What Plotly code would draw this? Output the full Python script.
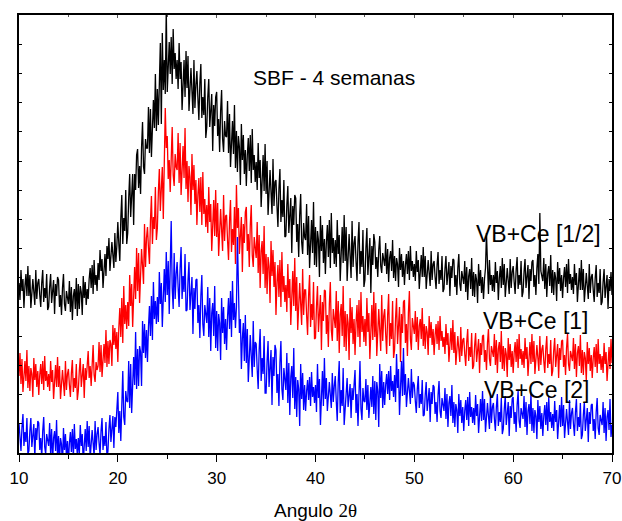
import numpy as np
import plotly.graph_objects as go

# 2-theta grid (degrees), 0.1 deg step from 10 to 70
angle = np.round(np.arange(10.0, 70.0001, 0.1), 1)

# Intensities (a.u., stacked offsets as in the picture), one row per degree
vb_ce_half = [
    170, 153, 183, 162, 174, 145, 167, 179, 157, 187,
    157, 178, 145, 167, 174, 161, 148, 183, 154, 170,
    174, 158, 146, 170, 183, 151, 165, 155, 179, 143,
    146, 166, 179, 150, 161, 173, 139, 169, 157, 176,
    173, 146, 158, 138, 165, 179, 149, 142, 162, 154,
    149, 172, 141, 166, 133, 157, 164, 144, 175, 137,
    169, 144, 167, 161, 138, 177, 155, 171, 148, 164,
    154, 174, 185, 165, 188, 159, 193, 168, 178, 162,
    190, 173, 203, 182, 194, 165, 187, 199, 177, 207,
    194, 215, 182, 204, 211, 198, 185, 220, 191, 207,
    231, 209, 192, 234, 258, 209, 235, 222, 263, 209,
    220, 255, 279, 236, 257, 279, 228, 279, 263, 298,
    304, 265, 287, 259, 305, 331, 286, 279, 314, 305,
    305, 346, 300, 344, 296, 338, 353, 325, 379, 322,
    364, 328, 368, 410, 329, 420, 363, 393, 359, 445,
    361, 393, 411, 379, 416, 369, 424, 384, 400, 374,
    393, 364, 410, 374, 391, 343, 376, 393, 356, 402,
    365, 397, 342, 375, 385, 362, 339, 393, 345, 368,
    382, 355, 333, 370, 389, 335, 356, 338, 374, 315,
    326, 356, 374, 326, 342, 359, 302, 348, 327, 356,
    361, 317, 334, 301, 342, 363, 314, 301, 332, 317,
    316, 352, 300, 339, 286, 323, 332, 299, 348, 285,
    322, 281, 317, 306, 268, 329, 293, 318, 279, 303,
    267, 298, 315, 282, 318, 270, 324, 283, 298, 271,
    291, 263, 310, 275, 293, 246, 280, 298, 262, 309,
    259, 292, 238, 272, 283, 261, 239, 294, 247, 271,
    273, 247, 226, 264, 284, 231, 253, 236, 273, 216,
    217, 248, 267, 220, 237, 255, 200, 247, 228, 258,
    255, 211, 229, 196, 238, 259, 211, 199, 230, 216,
    213, 249, 198, 237, 185, 222, 233, 200, 251, 188,
    226, 186, 222, 213, 176, 237, 202, 228, 190, 214,
    179, 211, 228, 196, 233, 185, 240, 200, 215, 189,
    213, 186, 233, 199, 218, 172, 207, 226, 190, 238,
    192, 226, 172, 207, 219, 197, 175, 232, 186, 210,
    217, 192, 172, 211, 231, 179, 202, 186, 223, 166,
    173, 205, 225, 178, 196, 215, 160, 207, 188, 219,
    211, 184, 196, 176, 203, 217, 187, 180, 200, 192,
    187, 210, 179, 204, 171, 195, 202, 182, 213, 175,
    197, 172, 195, 189, 166, 205, 183, 199, 176, 192,
    168, 188, 199, 179, 202, 173, 207, 182, 192, 176,
    189, 172, 202, 181, 193, 164, 186, 198, 176, 206,
    176, 197, 164, 186, 193, 180, 167, 202, 173, 189,
    192, 176, 164, 188, 201, 169, 183, 173, 197, 161,
    164, 184, 197, 168, 179, 191, 157, 187, 175, 194,
    193, 166, 178, 158, 185, 199, 169, 162, 182, 174,
    169, 192, 161, 186, 153, 177, 184, 164, 195, 157,
    181, 156, 179, 173, 150, 189, 167, 183, 160, 176,
    154, 174, 185, 220, 188, 159, 193, 168, 178, 162,
    178, 161, 191, 170, 182, 153, 175, 187, 165, 195,
    168, 189, 156, 178, 185, 172, 159, 194, 165, 181,
    187, 171, 159, 183, 196, 164, 178, 168, 192, 156,
    161, 181, 194, 165, 176, 188, 154, 184, 172, 191,
    193, 166, 178, 158, 185, 199, 169, 240, 182, 174,
    172, 195, 164, 189, 156, 180, 187, 167, 198, 160,
    183, 158, 181, 175, 152, 191, 169, 185, 162, 178,
    155, 175, 186, 166, 189, 160, 194, 169, 179, 163,
    176, 159, 189, 168, 180, 151, 173, 185, 163, 193,
    163, 184, 151, 173, 180, 167, 154, 189, 160, 176,
    179, 163, 151, 175, 188, 156, 170, 160, 184, 148,
    151, 171, 184, 155, 166, 178, 144, 174, 162, 181,
    158,
]

vb_ce_1 = [
    77, 100, 69, 94, 61, 85, 92, 72, 103, 65,
    87, 62, 85, 79, 56, 95, 73, 89, 66, 82,
    58, 78, 89, 69, 92, 63, 97, 72, 82, 66,
    79, 62, 92, 71, 83, 54, 76, 88, 66, 96,
    66, 87, 54, 76, 83, 70, 57, 92, 63, 79,
    84, 68, 56, 80, 93, 61, 75, 65, 89, 53,
    62, 82, 95, 66, 77, 89, 55, 85, 73, 92,
    102, 75, 87, 67, 94, 108, 78, 71, 91, 83,
    87, 111, 81, 108, 76, 101, 109, 90, 123, 86,
    112, 89, 113, 109, 87, 128, 108, 125, 104, 121,
    91, 125, 145, 116, 155, 110, 167, 129, 148, 124,
    151, 127, 178, 147, 169, 126, 164, 186, 154, 205,
    162, 200, 150, 189, 204, 187, 169, 229, 186, 215,
    226, 205, 189, 232, 257, 209, 236, 224, 266, 213,
    225, 261, 284, 242, 263, 286, 234, 286, 345, 305,
    317, 274, 293, 261, 304, 326, 278, 267, 299, 286,
    283, 320, 270, 310, 258, 296, 307, 275, 325, 264,
    292, 251, 287, 276, 238, 299, 263, 288, 249, 273,
    228, 258, 275, 241, 276, 228, 281, 239, 254, 226,
    248, 220, 266, 231, 249, 202, 235, 253, 217, 263,
    216, 250, 197, 232, 244, 223, 202, 258, 212, 237,
    238, 213, 193, 232, 253, 201, 224, 208, 246, 189,
    268, 225, 245, 199, 217, 236, 181, 229, 210, 241,
    246, 202, 219, 186, 227, 248, 198, 186, 216, 202,
    195, 231, 180, 218, 165, 202, 212, 179, 227, 165,
    199, 159, 196, 187, 150, 212, 177, 203, 166, 191,
    138, 170, 188, 156, 193, 146, 201, 161, 177, 151,
    168, 141, 189, 155, 174, 128, 163, 182, 147, 195,
    142, 176, 123, 158, 170, 149, 128, 184, 138, 163,
    163, 138, 118, 157, 178, 126, 149, 133, 171, 114,
    115, 147, 167, 121, 139, 158, 103, 151, 132, 163,
    162, 119, 138, 106, 149, 171, 123, 112, 144, 131,
    125, 162, 112, 152, 100, 138, 149, 117, 167, 106,
    142, 102, 139, 130, 93, 155, 120, 146, 109, 134,
    98, 130, 148, 116, 153, 106, 161, 121, 137, 111,
    134, 107, 155, 121, 140, 94, 129, 148, 113, 161,
    116, 150, 97, 132, 144, 123, 102, 158, 112, 137,
    144, 119, 99, 138, 159, 107, 130, 114, 152, 95,
    103, 135, 155, 109, 127, 146, 91, 139, 120, 151,
    153, 110, 129, 97, 140, 162, 114, 103, 135, 122,
    119, 142, 111, 136, 103, 127, 134, 114, 145, 107,
    129, 104, 127, 121, 98, 137, 115, 131, 108, 124,
    98, 118, 129, 109, 132, 103, 137, 112, 122, 106,
    116, 99, 129, 108, 120, 91, 113, 125, 103, 133,
    100, 121, 88, 110, 117, 104, 91, 126, 97, 113,
    115, 99, 87, 111, 124, 92, 106, 96, 120, 84,
    87, 107, 120, 91, 102, 114, 80, 110, 98, 117,
    118, 91, 103, 83, 110, 124, 94, 87, 107, 99,
    96, 119, 88, 113, 80, 104, 111, 91, 122, 84,
    107, 82, 105, 99, 76, 115, 93, 109, 86, 102,
    80, 100, 111, 91, 114, 85, 119, 94, 104, 88,
    102, 85, 115, 94, 106, 77, 99, 111, 89, 119,
    91, 112, 79, 101, 108, 95, 82, 117, 88, 104,
    108, 92, 80, 104, 117, 85, 99, 89, 113, 77,
    82, 102, 115, 86, 97, 109, 75, 105, 93, 112,
    113, 86, 98, 78, 105, 119, 89, 82, 102, 94,
    92, 115, 84, 109, 76, 100, 107, 87, 118, 80,
    103, 78, 101, 95, 72, 111, 89, 105, 82, 98,
    75, 95, 106, 86, 109, 80, 114, 89, 99, 83,
    97, 80, 110, 89, 101, 72, 94, 106, 84, 114,
    90,
]

vb_ce_2 = [
    30, 14, 2, 26, 39, 7, 21, 11, 35, -1,
    2, 22, 35, 6, 17, 29, -5, 25, 13, 32,
    30, 3, 15, -5, 22, 36, 6, -1, 19, 11,
    7, 30, -1, 24, -9, 15, 22, 2, 33, -5,
    17, -8, 15, 9, -14, 25, 3, 19, -4, 12,
    -10, 10, 21, 1, 24, -5, 29, 4, 14, -2,
    15, -2, 28, 7, 19, -10, 12, 24, 2, 32,
    6, 27, -6, 16, 23, 10, -3, 32, 3, 19,
    26, 10, -2, 22, 35, 3, 17, 7, 31, -5,
    2, 24, 38, 11, 23, 37, 5, 36, 26, 46,
    61, 20, 42, 12, 58, 82, 36, 28, 62, 52,
    51, 92, 45, 89, 40, 82, 96, 68, 121, 64,
    104, 67, 107, 101, 67, 132, 100, 129, 95, 123,
    91, 126, 147, 117, 157, 113, 171, 134, 152, 129,
    156, 131, 181, 149, 170, 126, 163, 184, 151, 201,
    158, 192, 139, 174, 232, 165, 144, 200, 154, 179,
    191, 166, 146, 185, 206, 154, 177, 161, 199, 142,
    143, 173, 191, 143, 159, 176, 119, 165, 144, 173,
    174, 130, 148, 115, 157, 178, 129, 117, 148, 134,
    130, 166, 116, 155, 102, 140, 150, 117, 167, 105,
    142, 102, 139, 130, 93, 155, 120, 146, 109, 134,
    103, 136, 155, 124, 162, 116, 172, 133, 150, 125,
    146, 216, 159, 120, 134, 84, 115, 130, 92, 138,
    90, 124, 71, 106, 118, 97, 76, 132, 86, 111,
    109, 84, 64, 103, 124, 72, 95, 79, 117, 60,
    60, 92, 112, 66, 84, 103, 48, 96, 77, 108,
    103, 60, 79, 47, 90, 112, 64, 53, 85, 72,
    63, 100, 50, 90, 38, 76, 87, 55, 105, 44,
    76, 36, 73, 64, 27, 89, 54, 80, 43, 68,
    42, 62, 73, 53, 76, 47, 81, 56, 66, 50,
    68, 41, 89, 55, 74, 28, 63, 82, 47, 95,
    54, 75, 42, 64, 71, 58, 45, 80, 51, 67,
    77, 52, 32, 71, 92, 40, 63, 47, 85, 28,
    42, 62, 75, 46, 57, 69, 35, 65, 53, 72,
    83, 40, 59, 27, 70, 92, 44, 33, 65, 52,
    51, 74, 43, 68, 35, 59, 66, 46, 77, 39,
    72, 33, 71, 62, 26, 89, 55, 82, 45, 71,
    48, 68, 79, 59, 82, 53, 87, 62, 72, 56,
    78, 51, 99, 65, 84, 38, 73, 92, 57, 105,
    58, 79, 46, 68, 75, 62, 49, 84, 55, 71,
    68, 52, 40, 64, 77, 45, 59, 49, 73, 37,
    38, 58, 71, 42, 53, 65, 31, 61, 49, 68,
    66, 39, 51, 31, 58, 72, 42, 35, 55, 47,
    42, 65, 34, 59, 26, 50, 57, 37, 68, 30,
    51, 26, 49, 43, 20, 59, 37, 53, 30, 46,
    22, 42, 53, 33, 56, 27, 61, 36, 46, 30,
    45, 28, 58, 37, 49, 20, 42, 54, 32, 62,
    33, 54, 21, 43, 50, 37, 24, 59, 30, 46,
    50, 34, 22, 46, 59, 27, 41, 31, 55, 19,
    24, 44, 57, 28, 39, 51, 17, 47, 35, 54,
    56, 29, 41, 21, 48, 62, 32, 25, 45, 37,
    34, 57, 26, 51, 18, 42, 49, 29, 60, 22,
    45, 20, 43, 37, 14, 53, 31, 47, 24, 40,
    17, 37, 48, 28, 51, 22, 56, 31, 41, 25,
    39, 22, 52, 31, 43, 14, 36, 48, 26, 56,
    27, 48, 15, 37, 44, 31, 18, 53, 24, 40,
    45, 29, 17, 41, 54, 22, 36, 26, 50, 14,
    18, 38, 51, 22, 33, 45, 11, 41, 29, 48,
    49, 22, 34, 14, 41, 55, 25, 18, 38, 30,
    28, 51, 20, 45, 12, 36, 43, 23, 54, 16,
    28,
]

series_names = ["VB+Ce [1/2]", "VB+Ce [1]", "VB+Ce [2]"]
series_values = [vb_ce_half, vb_ce_1, vb_ce_2]
series_colors = ["#000000", "#ff0000", "#0000ff"]
label_x = [62.55, 62.3, 62.4]
label_y = [219, 132, 63]
x_ticks = [10, 20, 30, 40, 50, 60, 70]

FONT = "Liberation Sans, Arial, sans-serif"

fig = go.Figure()
for name, vals, col in zip(series_names, series_values, series_colors):
    n = min(len(angle), len(vals))
    fig.add_trace(go.Scatter(x=angle[:n], y=vals[:n], mode="lines", name=name,
                             line=dict(color=col, width=1.3), showlegend=False))

# empty trace to activate the top mirrored axis
fig.add_trace(go.Scatter(x=[], y=[], xaxis="x2", yaxis="y", showlegend=False))

for name, lx, ly in zip(series_names, label_x, label_y):
    fig.add_annotation(x=lx, y=ly, text=name, showarrow=False,
                       font=dict(family=FONT, size=23, color="#000"))

fig.add_annotation(x=41.9, y=376, text="SBF - 4 semanas", showarrow=False,
                   font=dict(family=FONT, size=21, color="#000"))

fig.update_layout(
    width=622, height=521,
    margin=dict(l=19, r=10, t=15, b=68, autoexpand=False),
    paper_bgcolor="white", plot_bgcolor="white",
    font=dict(family=FONT, color="#000"),
    xaxis=dict(range=[10, 70], tickvals=x_ticks, ticks="outside", ticklen=7,
               tickwidth=1.3, tickcolor="#000", automargin=False,
               ticklabelstandoff=2,
               minor=dict(dtick=5, tick0=10, ticks="outside", ticklen=4,
                          tickwidth=1.3, tickcolor="#000"),
               showline=True, linecolor="#000", linewidth=1.6, mirror=True,
               showgrid=False, zeroline=False,
               tickfont=dict(family=FONT, size=17),
               title=dict(text='Angulo <span style="font-family:Liberation Serif, Times New Roman, serif">2θ</span>',
                          font=dict(family=FONT, size=19), standoff=18)),
    xaxis2=dict(range=[10, 70], overlaying="x", side="top", anchor="y",
                tickvals=x_ticks, ticks="inside", ticklen=3, tickcolor="#555",
                minor=dict(dtick=5, tick0=10, ticks="inside", ticklen=2, tickcolor="#555"),
                showticklabels=False, showgrid=False, zeroline=False, showline=False,
                automargin=False),
    yaxis=dict(range=[0, 438], dtick=29.2, tick0=0, ticks="inside", ticklen=3,
               tickcolor="#000", showticklabels=False, showline=True,
               linecolor="#000", linewidth=1.6, mirror="ticks",
               showgrid=False, zeroline=False, automargin=False),
)

fig.write_html("out.html")
